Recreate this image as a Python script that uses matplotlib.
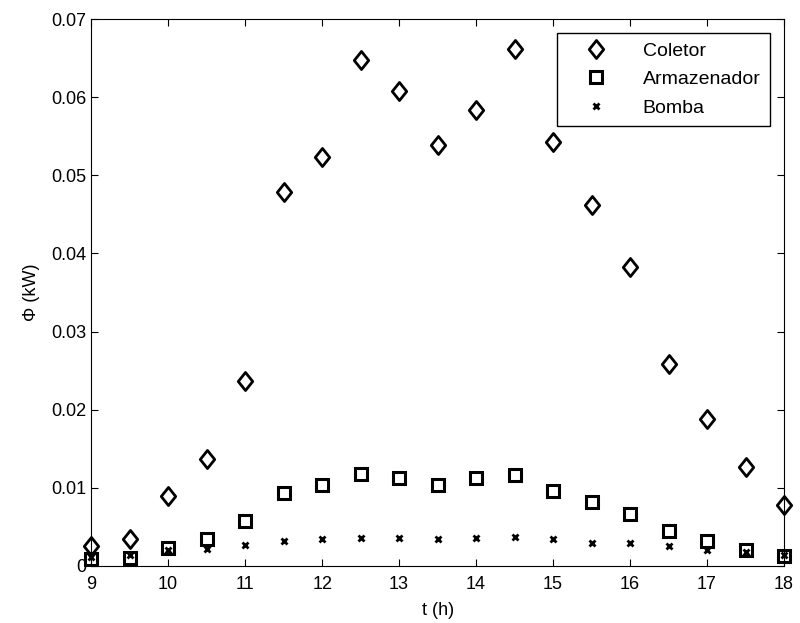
import numpy as np
import matplotlib
matplotlib.use('Agg')
import matplotlib.pyplot as plt
from matplotlib.path import Path

plt.rcParams['font.family'] = ['Liberation Sans', 'DejaVu Sans']

# data
t = [9, 9.5, 10, 10.5, 11, 11.5, 12, 12.5, 13, 13.5, 14, 14.5, 15, 15.5, 16, 16.5, 17, 17.5, 18]
coletor = [0.0026, 0.0035, 0.0090, 0.0137, 0.0237, 0.0479, 0.0523, 0.0648, 0.0608, 0.0539,
           0.0584, 0.0662, 0.0542, 0.0462, 0.0382, 0.0258, 0.0188, 0.0127, 0.0078]
armazenador = [0.0009, 0.0010, 0.0023, 0.0035, 0.0058, 0.0094, 0.0104, 0.0118, 0.0112, 0.0104,
               0.0112, 0.0117, 0.0096, 0.0082, 0.0066, 0.0045, 0.0032, 0.0020, 0.0013]
bomba = [0.0012, 0.0014, 0.0020, 0.0022, 0.0027, 0.0032, 0.0034, 0.0036, 0.0036, 0.0035,
         0.0036, 0.0037, 0.0034, 0.0030, 0.0029, 0.0025, 0.0020, 0.0018, 0.0014]

diamond = Path([(0, 1), (0.8, 0), (0, -1), (-0.8, 0), (0, 1)],
               [Path.MOVETO, Path.LINETO, Path.LINETO, Path.LINETO, Path.CLOSEPOLY])

fig = plt.figure(figsize=(8, 6.23), dpi=100)
ax = fig.add_axes([0.114, 0.0915, 0.866, 0.878])

ax.plot(t, coletor, linestyle='none', marker=diamond, markersize=13, mfc='none',
        mec='k', mew=2, label='Coletor', clip_on=False)
ax.plot(t, armazenador, linestyle='none', marker='s', markersize=9, mfc='none',
        mec='k', mew=2.2, label='Armazenador', clip_on=False)
ax.plot(t, bomba, linestyle='none', marker='x', markersize=4, mec='k', mew=2,
        label='Bomba', clip_on=False)

ax.set_xlim(9, 18)
ax.set_ylim(0, 0.07)
ax.set_xticks(np.arange(9, 19, 1))
ax.set_yticks(np.arange(0, 0.071, 0.01))
ax.set_yticklabels(['0', '0.01', '0.02', '0.03', '0.04', '0.05', '0.06', '0.07'])
ax.tick_params(direction='in', top=True, right=True, labelsize=13, length=5)
ax.tick_params(axis='x', pad=7)
ax.set_xlabel('t (h)', fontsize=13, labelpad=7)
ax.set_ylabel('Φ (kW)', fontsize=13, labelpad=8)

leg = ax.legend(loc='upper right', fontsize=14, frameon=True, fancybox=False,
                edgecolor='k', framealpha=1, borderaxespad=0.7, handletextpad=0.9,
                handlelength=3.0, labelspacing=0.55, borderpad=0.5)
leg.get_frame().set_linewidth(1)

plt.savefig('out.png', dpi=100)
